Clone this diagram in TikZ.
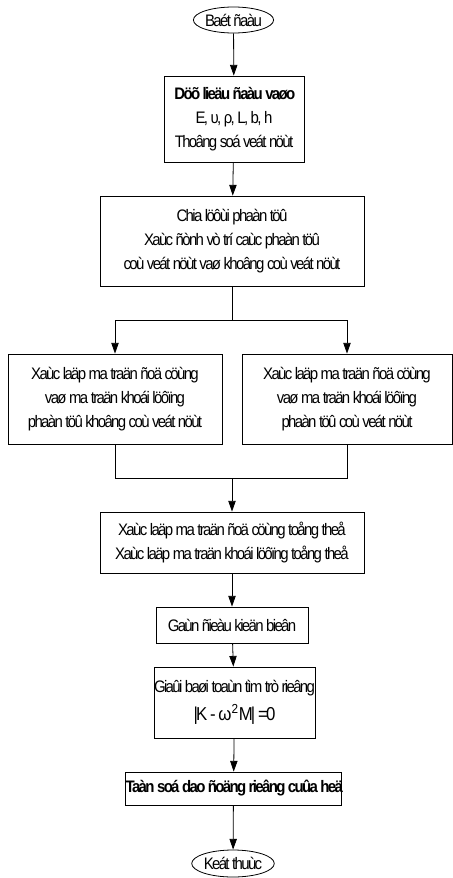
\documentclass[tikz,border=0pt]{standalone}
\usepackage{fontspec}
\setmainfont{Liberation Sans}[LetterSpace=-10,FakeStretch=0.9]
\usetikzlibrary{arrows.meta,shapes.geometric}

\tikzset{
  box/.style={draw,rectangle,align=center,inner sep=0pt,line width=0.6pt},
  term/.style={draw,ellipse,inner sep=0pt,line width=0.6pt},
  link/.style={line width=0.6pt,-{Triangle[length=8pt,width=5.5pt]}},
  wire/.style={line width=0.6pt}
}

\begin{document}
\begin{tikzpicture}[x=0.75pt,y=-0.75pt,font=\fontsize{12.5}{18}\selectfont]
\useasboundingbox (0,0) rectangle (453,878);

\node[term,minimum width=57.75pt,minimum height=19.5pt] (start) at (233.5,20) {Baét ñaàu};
\node[box,minimum width=105pt,minimum height=64.5pt] (input) at (234,119)
  {\textbf{Döõ lieäu ñaàu vaøo}\\E, υ, ρ, L, b, h\\Thoâng soá veát nöùt};
\node[box,minimum width=198pt,minimum height=67.5pt] (mesh) at (232,241)
  {Chia löôùi phaàn töû\\Xaùc ñònh vò trí caùc phaàn töû\\coù veát nöùt vaø khoâng coù veát nöùt};
\node[box,minimum width=160.5pt,minimum height=67.5pt] (left) at (115,399)
  {Xaùc laäp ma traän ñoä cöùng\\vaø ma traän khoái löôïng\\phaàn töû khoâng coù veát nöùt};
\node[box,minimum width=157.5pt,minimum height=67.5pt] (right) at (347,399)
  {Xaùc laäp ma traän ñoä cöùng\\vaø ma traän khoái löôïng\\phaàn töû coù veát nöùt};
\node[box,minimum width=198pt,minimum height=45.75pt] (global) at (232,542.5)
  {Xaùc laäp ma traän ñoä cöùng toång theå\\Xaùc laäp ma traän khoái löôïng toång theå};
\node[box,minimum width=114pt,minimum height=27pt] (bound) at (232,625) {Gaùn ñieàu kieän bieân};
\node[box,minimum width=116.25pt,minimum height=53.25pt] (solve) at (234.5,702.5)
  {Giaûi baøi toaùn tìm trò rieâng\\[3pt]{\fontsize{14}{16}\selectfont|K - ω\textsuperscript{2}M| =0}};
\node[box,minimum width=161.25pt,minimum height=24.75pt] (freq) at (233.5,788.5)
  {\textbf{Taàn soá dao ñoäng rieâng cuûa heä}};
\node[term,minimum width=55.5pt,minimum height=20.25pt] (stop) at (233,863.5) {Keát thuùc};

\coordinate (split) at (232,320);
\coordinate (merge) at (232,478);

\draw[link] (start) -- (input);
\draw[link] (input) -- (mesh);
\draw[wire] (mesh) -- (split);
\draw[link] (split) -| (left);
\draw[link] (split) -| (right);
\draw[wire] (left) |- (merge);
\draw[wire] (right) |- (merge);
\draw[link] (merge) -- (global);
\draw[link] (global) -- (bound);
\draw[link] (bound) -- (solve);
\draw[link] (solve) -- (freq);
\draw[link] (freq) -- (stop);
\end{tikzpicture}
\end{document}
